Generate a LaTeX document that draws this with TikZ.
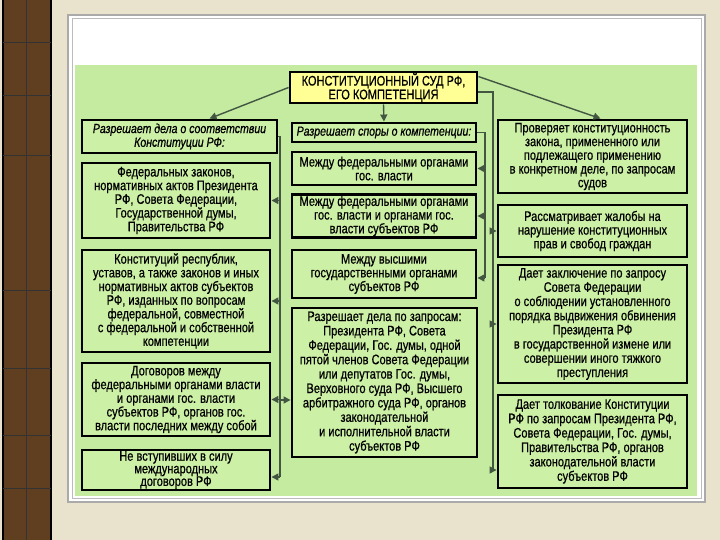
\documentclass[tikz,border=0pt]{standalone}
\usepackage{fontspec}
\setmainfont{Liberation Sans}[FakeStretch=0.8,FakeBold=0.6]
\usetikzlibrary{arrows.meta}
\definecolor{parch}{RGB}{233,227,206}
\definecolor{wood}{RGB}{96,62,32}
\definecolor{greenbg}{RGB}{197,235,161}
\definecolor{boxg}{RGB}{204,240,166}
\definecolor{titley}{RGB}{255,255,150}
\definecolor{conncol}{RGB}{66,86,66}
\definecolor{framegray}{RGB}{170,170,170}
\tikzset{
  box/.style={draw=black, line width=2.9pt, fill=boxg, align=center, inner sep=1pt,
    font=\fontsize{13.8}{13.7}\selectfont},
  hbox/.style={box, font=\fontsize{13.2}{13.7}\selectfont\itshape},
  conn/.style={draw=conncol, line width=1.4pt},
  arr/.style={conn, -{Triangle[length=7pt,width=7pt]}}
}
\begin{document}
\begin{tikzpicture}[x=1pt,y=-1pt]
\useasboundingbox (0,0) rectangle (720,540);
% background
\fill[parch] (0,0) rectangle (720,540);
\fill[wood] (3,0) rectangle (51,540);
\draw[black, line width=1.4pt] (3,0) -- (3,540) (51,0) -- (51,540);
\draw[black!80, line width=0.6pt] (26,0) -- (26,540);
\foreach \yy in {42,95,155,290,368,435,488}
  \draw[black!80, line width=0.6pt] (3,\yy) -- (51,\yy);
% frame
\fill[white] (68,15) rectangle (705,502);
\draw[framegray, line width=1.5pt] (68,15) rectangle (705,502);
\draw[framegray!80, line width=1pt] (72,19) rectangle (701,498);
\fill[greenbg] (75,65) rectangle (697,496);

% title
\node[box, fill=titley, minimum width=187pt, minimum height=31pt] (title) at (383.5,87.5) {КОНСТИТУЦИОННЫЙ СУД РФ,\\ЕГО КОМПЕТЕНЦИЯ};

% left column
\node[hbox, minimum width=195pt, minimum height=33pt] (hl) at (179.5,136.5) {Разрешает дела о соответствии\\Конституции РФ:};
\node[box, minimum width=188pt, minimum height=75pt] (l1) at (176,200.5) {Федеральных законов,\\нормативных актов Президента\\РФ, Совета Федерации,\\Государственной думы,\\Правительства РФ};
\node[box, minimum width=188pt, minimum height=102pt] (l2) at (176,301) {Конституций республик,\\уставов, а также законов и иных\\нормативных актов субъектов\\РФ, изданных по вопросам\\федеральной, совместной\\с федеральной и собственной\\компетенции};
\node[box, minimum width=188pt, minimum height=73pt] (l3) at (176,399.5) {Договоров между\\федеральными органами власти\\и органами гос. власти\\субъектов РФ, органов гос.\\власти последних между собой};
\node[box, minimum width=188pt, minimum height=40pt, font=\fontsize{13.8}{12.6}\selectfont] (l4) at (176,470) {Не вступивших в силу\\международных\\договоров РФ};

% middle column
\node[hbox, minimum width=184pt, minimum height=19pt] (hm) at (384,132.5) {Разрешает споры о компетенции:};
\node[box, minimum width=184pt, minimum height=33pt] (m1) at (384,168.5) {Между федеральными органами\\гос. власти};
\node[box, minimum width=184pt, minimum height=42pt] (m2) at (384,216) {Между федеральными органами\\гос. власти и органами гос.\\власти субъектов РФ};
\node[box, minimum width=184pt, minimum height=48pt] (m3) at (384,274) {Между высшими\\государственными органами\\субъектов РФ};
\node[box, minimum width=185pt, minimum height=149pt, font=\fontsize{13.8}{14.4}\selectfont] (m4) at (384.5,382.5) {Разрешает дела по запросам:\\Президента РФ, Совета\\Федерации, Гос. думы, одной\\пятой членов Совета Федерации\\или депутатов Гос. думы,\\Верховного суда РФ, Высшего\\арбитражного суда РФ, органов\\законодательной\\и исполнительной власти\\субъектов РФ};

% right column
\node[box, minimum width=189pt, minimum height=73pt] (r1) at (592.5,156.5) {Проверяет конституционность\\закона, примененного или\\подлежащего применению\\в конкретном деле, по запросам\\судов};
\node[box, minimum width=189pt, minimum height=52pt] (r2) at (592.5,231) {Рассматривает жалобы на\\нарушение конституционных\\прав и свобод граждан};
\node[box, minimum width=189pt, minimum height=118pt, font=\fontsize{13.8}{14.2}\selectfont] (r3) at (592.5,324) {Дает заключение по запросу\\Совета Федерации\\о соблюдении установленного\\порядка выдвижения обвинения\\Президента РФ\\в государственной измене или\\совершении иного тяжкого\\преступления};
\node[box, minimum width=189pt, minimum height=93pt, font=\fontsize{13.8}{14.4}\selectfont] (r4) at (592.5,441.5) {Дает толкование Конституции\\РФ по запросам Президента РФ,\\Совета Федерации, Гос. думы,\\Правительства РФ, органов\\законодательной власти\\субъектов РФ};

% connectors from title
\draw[arr] (title.west) -- ([xshift=30pt]hl.north);
\draw[arr] (title.south) -- (hm.north);
\draw[arr] ([yshift=-6pt]title.north east) -- ([xshift=8pt]r1.north);

% right bus
\coordinate (rtop) at (493,92);
\coordinate (rbot) at (493,470);
\draw[conn] ([yshift=-4.5pt]title.east) -- (rtop) -- (rbot);
\draw[arr] (rtop |- r2.west) -- (r2.west);
\draw[arr] (rtop |- r3.west) -- (r3.west);
\draw[arr] (rbot) -- (rbot -| r4.west);

% left bus
\coordinate (ltop) at (280,136.5);
\coordinate (lbot) at (280,477);
\draw[conn] (hl.east) -- (ltop) -- (lbot);
\draw[arr] (ltop |- l1.east) -- (l1.east);
\draw[arr] (ltop |- l2.east) -- (l2.east);
\draw[arr] (ltop |- l3.east) -- (l3.east);
\draw[arr] (lbot) -- (lbot -| l4.east);
\draw[arr] (ltop |- 0,400) -- (m4.west |- 0,400);

% middle bus
\coordinate (mtop) at (485,132.5);
\coordinate (mbot) at (485,278);
\draw[conn] (hm.east) -- (mtop) -- (mbot);
\draw[arr] (mtop |- m1.east) -- (m1.east);
\draw[arr] (mtop |- m2.east) -- (m2.east);
\draw[arr] (mbot) -- (mbot -| m3.east);
\end{tikzpicture}
\end{document}
